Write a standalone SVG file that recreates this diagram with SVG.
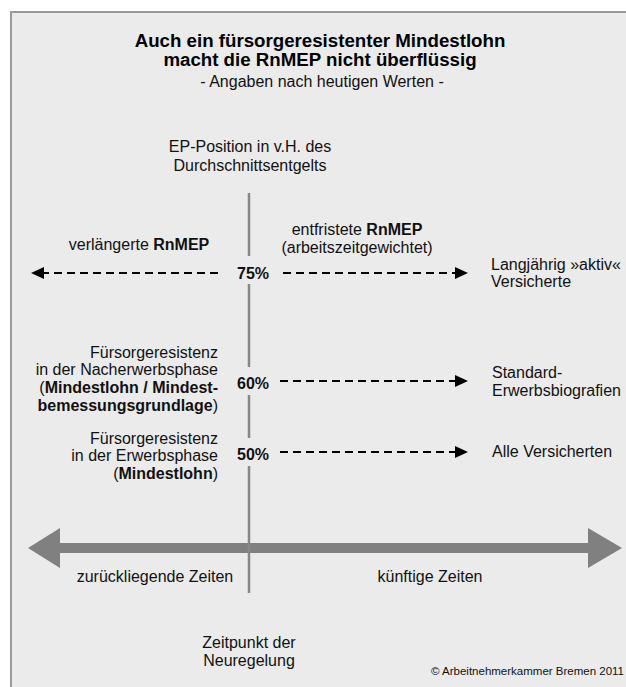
<svg xmlns="http://www.w3.org/2000/svg" width="626" height="687" viewBox="0 0 626 687">
<defs>
<style>
text{font-family:"Liberation Sans",Arial,sans-serif;fill:#111;font-size:16px}
.t{font-size:18.7px;font-weight:bold;fill:#000}
.b{font-weight:bold}
.c{text-anchor:middle}
.r{text-anchor:end}
.d{stroke:#000;stroke-width:2;stroke-dasharray:8 5;fill:none}
.v{stroke:#888;stroke-width:2.5;fill:none}
</style>
<marker id="ah" markerUnits="userSpaceOnUse" markerWidth="14" markerHeight="13" refX="0" refY="6" orient="auto">
<path d="M0,0 L13,6 L0,12 z" fill="#000"/>
</marker>
</defs>
<rect width="626" height="687" fill="#fff"/>
<rect x="11" y="12" width="630" height="690" fill="#ebebeb" stroke="#9a9a9a" stroke-width="2"/>
<g id="title">
<text class="t c" x="320" y="47">Auch ein fürsorgeresistenter Mindestlohn</text>
<text class="t c" x="320" y="66">macht die RnMEP nicht überflüssig</text>
<text class="c" x="322" y="87">- Angaben nach heutigen Werten -</text>
</g>
<g id="axis-label">
<text class="c" x="250" y="152">EP-Position in v.H. des</text>
<text class="c" x="250" y="171">Durchschnittsentgelts</text>
</g>
<g id="time-axis">
<polygon points="28,548 60,528 60,543 588,543 588,528 622,548 588,568 588,553 60,553 60,568" fill="#808080"/>
<text class="c" x="155" y="582">zurückliegende Zeiten</text>
<text class="c" x="430" y="582">künftige Zeiten</text>
</g>
<g id="vertical-axis">
<path class="v" d="M249,193 V256 M249,284 V367 M249,395 V438 M249,466 V593"/>
<text class="c" x="249" y="648">Zeitpunkt der</text>
<text class="c" x="249" y="666">Neuregelung</text>
</g>
<g id="p75">
<text class="b c" x="253" y="279">75%</text>
</g>
<g id="p60">
<text class="b c" x="253" y="389">60%</text>
</g>
<g id="p50">
<text class="b c" x="253" y="460">50%</text>
</g>
<g id="left75">
<text class="c" x="139" y="250">verlängerte <tspan class="b">RnMEP</tspan></text>
</g>
<g id="mid75">
<text class="c" x="357" y="235">entfristete <tspan class="b">RnMEP</tspan></text>
<text class="c" x="357" y="253">(arbeitszeitgewichtet)</text>
</g>
<g id="right75">
<text x="491" y="270">Langjährig »aktiv«</text>
<text x="491" y="287">Versicherte</text>
</g>
<g id="left60">
<text class="r" x="218" y="358">Fürsorgeresistenz</text>
<text class="r" x="218" y="375">in der Nacherwerbsphase</text>
<text class="r" x="218" y="393">(<tspan class="b">Mindestlohn / Mindest-</tspan></text>
<text class="r" x="218" y="411"><tspan class="b">bemessungsgrundlage</tspan>)</text>
</g>
<g id="right60">
<text x="492" y="378">Standard-</text>
<text x="492" y="396">Erwerbsbiografien</text>
</g>
<g id="left50">
<text class="r" x="218" y="444">Fürsorgeresistenz</text>
<text class="r" x="218" y="461">in der Erwerbsphase</text>
<text class="r" x="218" y="479">(<tspan class="b">Mindestlohn</tspan>)</text>
</g>
<g id="right50">
<text x="492" y="457">Alle Versicherten</text>
</g>
<g id="connectors">
<line class="d" x1="218" y1="273" x2="44" y2="273" marker-end="url(#ah)"/>
<line class="d" x1="283" y1="273" x2="455" y2="273" marker-end="url(#ah)"/>
<line class="d" x1="280" y1="381" x2="455" y2="381" marker-end="url(#ah)"/>
<line class="d" x1="280" y1="452" x2="455" y2="452" marker-end="url(#ah)"/>
</g>
<text id="copyright" class="r" x="624" y="675" style="font-size:11.5px">© Arbeitnehmerkammer Bremen 2011</text>
</svg>
